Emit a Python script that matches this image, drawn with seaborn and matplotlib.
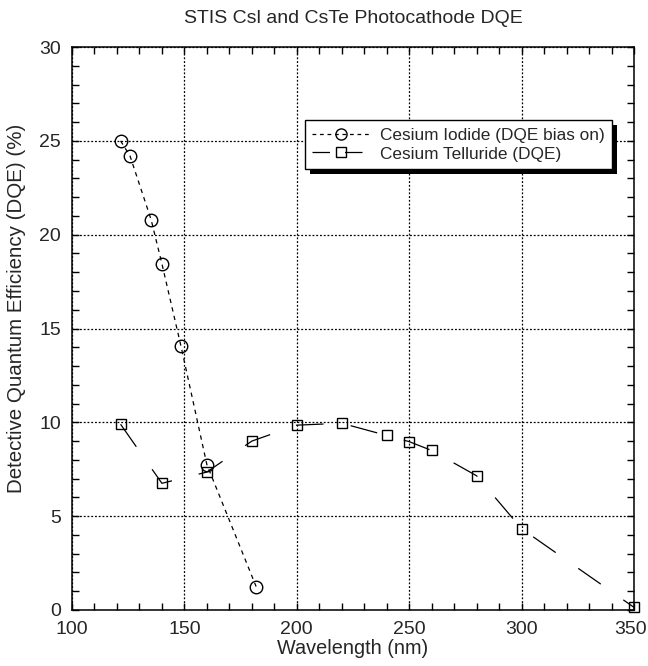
import numpy as np
import matplotlib
matplotlib.use("Agg")
import matplotlib.pyplot as plt
from matplotlib.lines import Line2D
from matplotlib.patches import Rectangle
from matplotlib.transforms import IdentityTransform, ScaledTranslation
import seaborn as sns

# values
csi_wave = [121.6, 125.8, 135.2, 140.0, 148.5, 160.0, 181.9]
csi_dqe = [25.0, 24.2, 20.8, 18.45, 14.05, 7.75, 1.25]

cste_wave = [121.6, 140, 160, 180, 200, 220, 240, 250, 260, 280, 300, 350]
cste_dqe = [9.9, 6.75, 7.35, 9.0, 9.85, 9.95, 9.3, 8.97, 8.5, 7.15, 4.33, 0.14]

labels = ["Cesium Iodide (DQE bias on)", "Cesium Telluride (DQE)"]

sns.set_style("ticks")
plt.rcParams['font.family'] = ['Liberation Sans', 'DejaVu Sans']

fig = plt.figure(figsize=(6.48, 6.66), dpi=100)
ax = fig.add_axes([0.1111, 0.0841, 0.8673, 0.8453])

csi_ls = (0, (3.5, 3.5))
cste_ls = (0, (22, 22))

sns.lineplot(x=csi_wave, y=csi_dqe, ax=ax, color='black', linewidth=0.9,
             linestyle=csi_ls, marker='o', markersize=9,
             markerfacecolor='none', markeredgecolor='black',
             markeredgewidth=1.0)
sns.lineplot(x=cste_wave, y=cste_dqe, ax=ax, color='black', linewidth=0.9,
             linestyle=cste_ls, marker='s', markersize=7.5,
             markerfacecolor='none', markeredgecolor='black',
             markeredgewidth=1.0, clip_on=False, zorder=3)

ax.set_xlim(100, 350)
ax.set_ylim(0, 30)
ax.set_xticks(np.arange(100, 351, 50))
ax.set_xticks(np.arange(100, 351, 10), minor=True)
ax.set_yticks(np.arange(0, 31, 5))
ax.set_yticks(np.arange(0, 31, 1), minor=True)
ax.tick_params(which='both', direction='in', top=True, right=True,
               length=5, width=1, color='black', labelsize=14)
ax.tick_params(axis='x', which='both', pad=8)
ax.tick_params(axis='y', which='both', pad=8)
ax.grid(which='major', linestyle=(0, (1.5, 1.5)), color='black', linewidth=0.9)
for s in ax.spines.values():
    s.set_color('black')
    s.set_linewidth(1.1)

# last x label sits at the figure edge, nudge it in a touch
last = ax.get_xticklabels()[-1]
last.set_transform(last.get_transform() + ScaledTranslation(-3 / 100, 0, fig.dpi_scale_trans))

ax.set_xlabel("Wavelength (nm)", fontsize=14.3, labelpad=1)
ax.set_ylabel("Detective Quantum Efficiency (DQE) (%)", fontsize=14.8)
ax.yaxis.set_label_coords(-0.082, 0.536)
ax.set_title("STIS Csl and CsTe Photocathode DQE", fontsize=14, pad=17)

# legend proxies
h1 = Line2D([], [], color='black', linewidth=0.9, linestyle=(0, (3, 3)),
            marker='o', markersize=8, markerfacecolor='none', markeredgecolor='black')
h2 = Line2D([], [], color='black', linewidth=0.9, linestyle=(0, (14, 12)),
            marker='s', markersize=7, markerfacecolor='none', markeredgecolor='black')
leg = ax.legend([h1, h2], labels, loc='upper right', bbox_to_anchor=(0.961, 0.870),
                borderaxespad=0, fontsize=12.4, handlelength=3.3, handletextpad=0.6,
                labelspacing=0.2, borderpad=0.45, fancybox=False, framealpha=1,
                edgecolor='black')
leg.get_frame().set_linewidth(1.0)

# solid black drop shadow, offset down-right
fig.canvas.draw()
bb = leg.get_frame().get_window_extent()
shadow = Rectangle((bb.x0 + 5, bb.y0 - 5), bb.width, bb.height,
                   transform=IdentityTransform(), facecolor='black',
                   edgecolor='none', zorder=4.9, clip_on=False)
ax.add_artist(shadow)

fig.savefig("out.png", dpi=100)
